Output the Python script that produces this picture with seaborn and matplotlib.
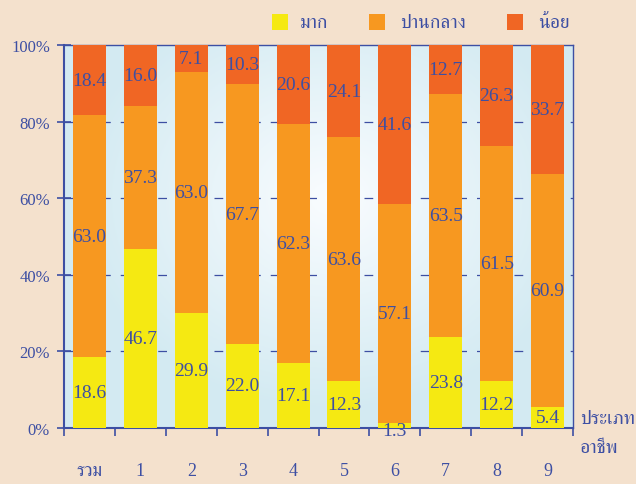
import numpy as np
import pandas as pd
import matplotlib
matplotlib.use("Agg")
import matplotlib.pyplot as plt
import seaborn as sns
from matplotlib import font_manager
from matplotlib.patches import Rectangle

categories = ["รวม", "1", "2", "3", "4", "5", "6", "7", "8", "9"]
mak = [18.6, 46.7, 29.9, 22.0, 17.1, 12.3, 1.3, 23.8, 12.2, 5.4]
pankang = [63.0, 37.3, 63.0, 67.7, 62.3, 63.6, 57.1, 63.5, 61.5, 60.9]
noi = [18.4, 16.0, 7.1, 10.3, 20.6, 24.1, 41.6, 12.7, 26.3, 33.7]
series_names = ["มาก", "ปานกลาง", "น้อย"]
y_ticks = [0, 20, 40, 60, 80, 100]
x_title = ["ประเภท", "อาชีพ"]

# find a font with Thai glyphs, preferring serif ones
thai_font = None
try:
    from fontTools.ttLib import TTFont
    cands = []
    for fe in font_manager.fontManager.ttflist:
        try:
            tt = TTFont(fe.fname, fontNumber=0, lazy=True)
            cmap = tt.getBestCmap()
            if cmap and 0x0E01 in cmap and 0x0E21 in cmap:
                score = 0
                if "Serif" in fe.name:
                    score += 2
                if fe.weight in (400, "normal", "regular"):
                    score += 1
                cands.append((score, fe.name))
        except Exception:
            pass
    if cands:
        cands.sort(key=lambda s: -s[0])
        thai_font = cands[0][1]
except Exception:
    pass

sns.set_theme(style="white")
fams = ["Liberation Serif"] + ([thai_font] if thai_font else []) + ["DejaVu Sans"]
plt.rcParams["font.family"] = fams

BG = "#f4e1cd"
BLUE = "#3d4fa3"
C_YEL = "#f5e912"
C_ORA = "#f79820"
C_RED = "#f06624"

fig = plt.figure(figsize=(6.36, 4.85), dpi=100, facecolor=BG)
ax = fig.add_axes([64/636, 1-429/485, (573-64)/636, (429-46)/485])

# gradient background
nx, ny = 300, 200
xx, yy = np.meshgrid(np.linspace(-1, 1, nx), np.linspace(-1, 1, ny))
r = np.sqrt(((xx - 0.05) / 1.0) ** 2 + ((yy + 0.2) / 1.1) ** 2)
t = np.clip(r / 1.0, 0, 1)
c0 = np.array([0.98, 0.99, 1.0])
c1 = np.array([0.83, 0.92, 0.95])
img = c0[None, None, :] * (1 - t[..., None]) + c1[None, None, :] * t[..., None]
ax.imshow(img, extent=[-0.5, 9.5, 0, 100], aspect="auto", zorder=0, origin="upper")

df = pd.DataFrame({"cat": categories, "mak": mak, "pan": pankang, "noi": noi})
df["c1"] = df["mak"]
df["c2"] = df["mak"] + df["pan"]
df["c3"] = df["c2"] + df["noi"]

for col, color in [("c3", C_RED), ("c2", C_ORA), ("c1", C_YEL)]:
    sns.barplot(data=df, x="cat", y=col, color=color, width=0.65, ax=ax,
                saturation=1, edgecolor="none", linewidth=0, zorder=3)

# value labels
for i in range(len(categories)):
    bottoms = [0, mak[i], mak[i] + pankang[i]]
    for v, b in zip([mak[i], pankang[i], noi[i]], bottoms):
        yc = b + v / 2
        if v < 3:
            yc = -0.6
        ax.text(i, yc, f"{v:.1f}", ha="center", va="center", fontsize=14,
                color=BLUE, family=fams, zorder=5, clip_on=False)

for y in [20, 40, 60, 80]:
    ax.axhline(y, color=BLUE, lw=0.9, ls=(0, (7, 8)), zorder=1)

ax.set_xlim(-0.5, 9.5)
ax.set_ylim(0, 100)
ax.set_yticks(y_ticks)
ax.set_yticklabels([f"{v}%" for v in y_ticks], fontsize=12, color=BLUE)
ax.set_xticks(np.arange(-0.5, 10, 1))
ax.set_xticklabels([])
ax.tick_params(axis="x", direction="out", length=6, width=1.2, color=BLUE, bottom=True)
ax.tick_params(axis="y", direction="inout", length=10, width=1.2, color=BLUE,
               left=True, pad=5)
ax.set_xlabel("")
ax.set_ylabel("")
for s in ax.spines.values():
    s.set_color(BLUE)
    s.set_linewidth(1.0)
ax.spines["left"].set_linewidth(1.5)
ax.spines["bottom"].set_linewidth(1.5)

for i, c in enumerate(categories):
    ax.text(i, -11, c, ha="center", va="center", fontsize=13, color=BLUE,
            family=fams)

fig.text(580/636, 1-420/485, x_title[0], ha="left", va="center", fontsize=14,
         color=BLUE, family=fams)
fig.text(580/636, 1-449/485, x_title[1], ha="left", va="center", fontsize=14,
         color=BLUE, family=fams)

# legend
leg_items = [(272, C_YEL, 300), (369, C_ORA, 400), (507, C_RED, 538)]
for (xs, col, xt), name in zip(leg_items, series_names):
    fig.patches.append(Rectangle((xs/636, 1-31/485), 16/636, 16/485,
                                 transform=fig.transFigure, facecolor=col,
                                 edgecolor="none"))
    fig.text(xt/636, 1-23/485, name, ha="left", va="center", fontsize=14,
             color=BLUE, family=fams)

fig.savefig("out.png", dpi=100, facecolor=BG)
